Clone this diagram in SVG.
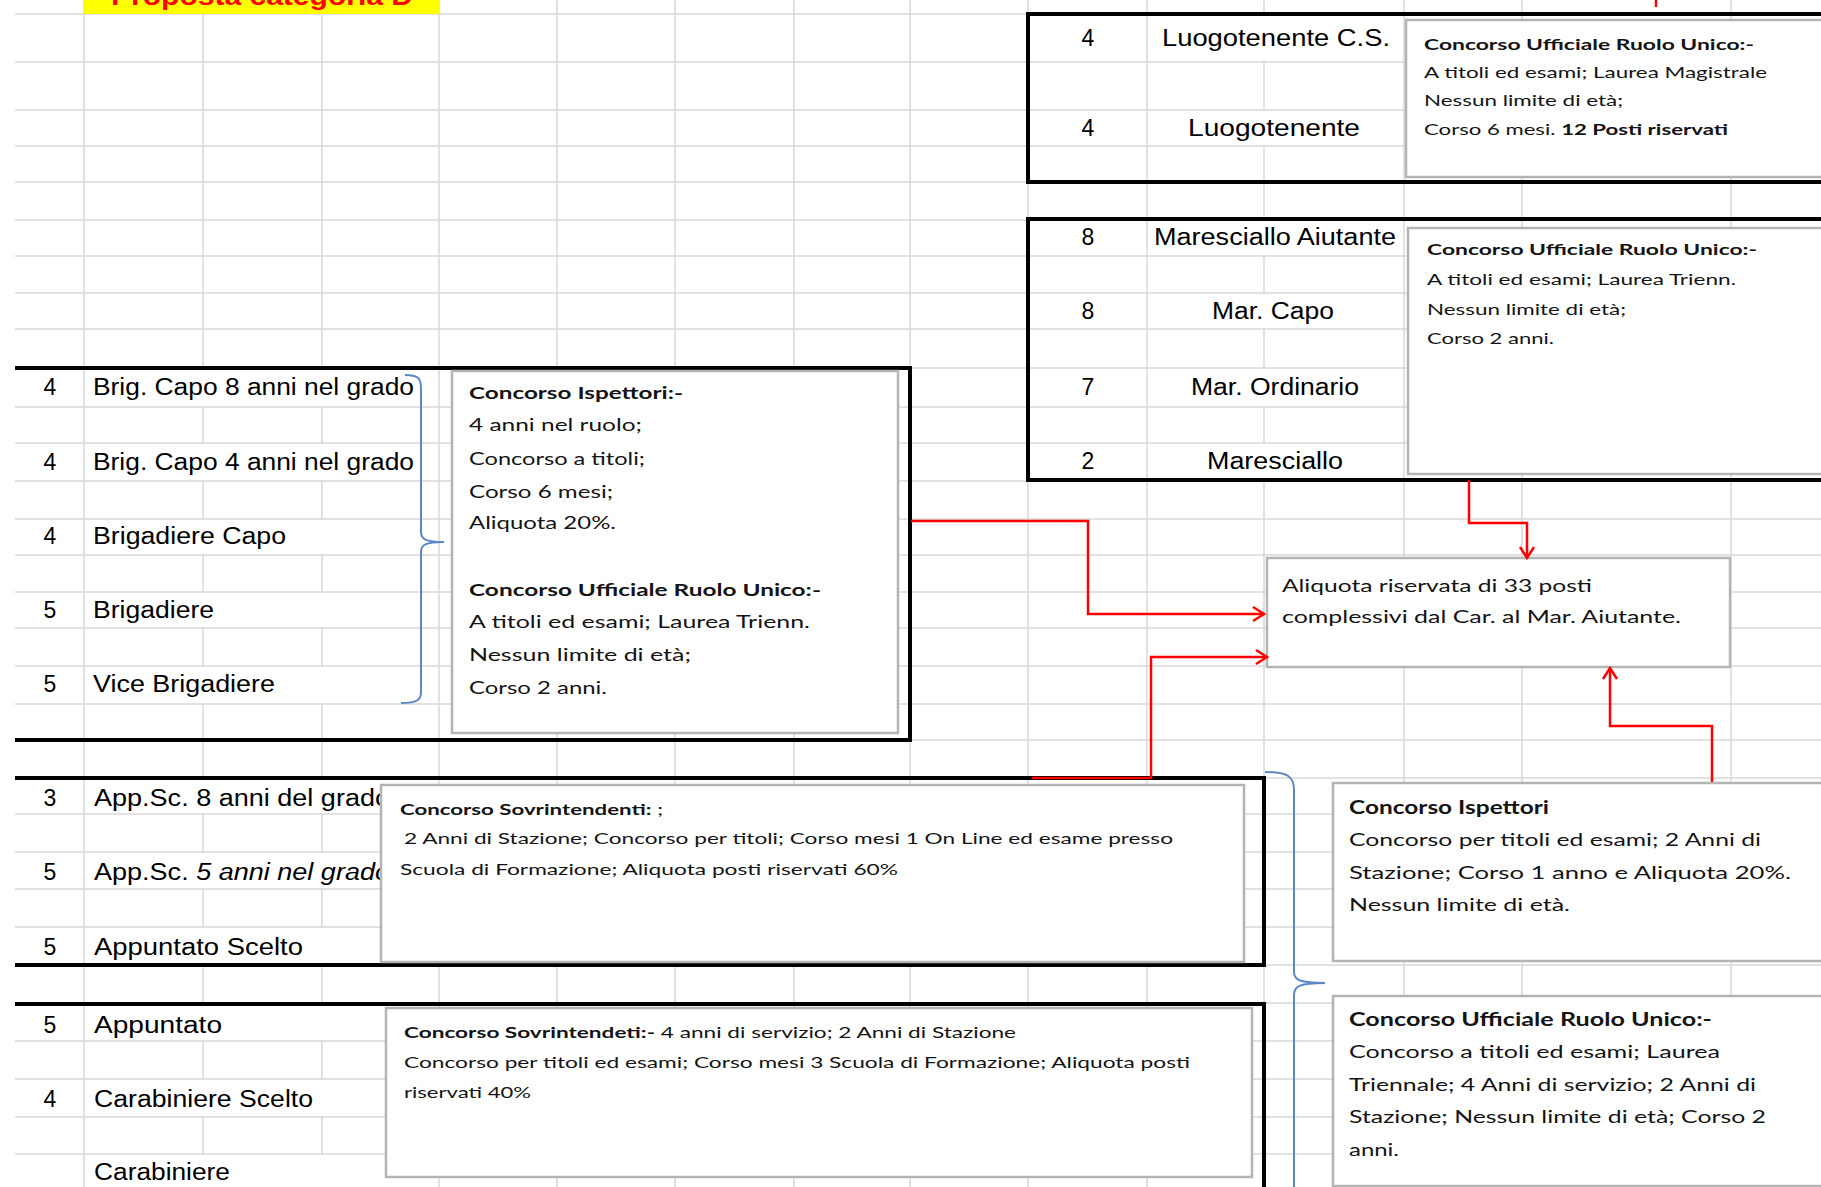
<svg xmlns="http://www.w3.org/2000/svg" width="1821" height="1187" viewBox="0 0 1821 1187">
<style>
.g{stroke:#d9d9d9;stroke-width:1.5}
.wo{fill:#fff}
.box{fill:none;stroke:#000;stroke-width:4}
.co{fill:#fff;stroke:#b4b4b4;stroke-width:2.5}
.lab{font-family:"Liberation Sans",Arial,sans-serif;font-size:23px;fill:#000}
.num{font-family:"Liberation Sans",Arial,sans-serif;font-size:23px;fill:#000;text-anchor:middle}
.t15{font-family:Lato,"Liberation Sans",sans-serif;font-size:15px;fill:#141414}
.t17{font-family:Lato,"Liberation Sans",sans-serif;font-size:17px;fill:#141414}
.t18{font-family:Lato,"Liberation Sans",sans-serif;font-size:18px;fill:#141414}
.b{font-weight:bold}
.brace{fill:none;stroke:#5b87c5;stroke-width:2}
.red{fill:none;stroke:#ff0000;stroke-width:2.5}
</style>
<defs>
<marker id="ah" markerUnits="userSpaceOnUse" markerWidth="18" markerHeight="18" refX="14" refY="9" orient="auto">
<path d="M3,2 L14,9 L3,16" fill="none" stroke="#ff0000" stroke-width="2.5"/>
</marker>
</defs>
<rect width="1821" height="1187" fill="#fff"/>
<g id="grid">
<g class="g">
<line x1="84" y1="0" x2="84" y2="1187"/><line x1="203" y1="0" x2="203" y2="1187"/><line x1="322" y1="0" x2="322" y2="1187"/><line x1="439" y1="0" x2="439" y2="1187"/><line x1="557" y1="0" x2="557" y2="1187"/><line x1="675" y1="0" x2="675" y2="1187"/><line x1="794" y1="0" x2="794" y2="1187"/><line x1="910" y1="0" x2="910" y2="1187"/><line x1="1028" y1="0" x2="1028" y2="1187"/><line x1="1147" y1="0" x2="1147" y2="1187"/><line x1="1264" y1="0" x2="1264" y2="1187"/><line x1="1404" y1="0" x2="1404" y2="1187"/><line x1="1522" y1="0" x2="1522" y2="1187"/><line x1="1731" y1="0" x2="1731" y2="1187"/>
<line x1="15" y1="14" x2="1821" y2="14"/><line x1="15" y1="62" x2="1821" y2="62"/><line x1="15" y1="110" x2="1821" y2="110"/><line x1="15" y1="146" x2="1821" y2="146"/><line x1="15" y1="182" x2="1821" y2="182"/><line x1="15" y1="220" x2="1821" y2="220"/><line x1="15" y1="256" x2="1821" y2="256"/><line x1="15" y1="293" x2="1821" y2="293"/><line x1="15" y1="329" x2="1821" y2="329"/><line x1="15" y1="368" x2="1821" y2="368"/><line x1="15" y1="407" x2="1821" y2="407"/><line x1="15" y1="443" x2="1821" y2="443"/><line x1="15" y1="481" x2="1821" y2="481"/><line x1="15" y1="519" x2="1821" y2="519"/><line x1="15" y1="555" x2="1821" y2="555"/><line x1="15" y1="592" x2="1821" y2="592"/><line x1="15" y1="628" x2="1821" y2="628"/><line x1="15" y1="666" x2="1821" y2="666"/><line x1="15" y1="704" x2="1821" y2="704"/><line x1="15" y1="740" x2="1821" y2="740"/><line x1="15" y1="778" x2="1821" y2="778"/><line x1="15" y1="814" x2="1821" y2="814"/><line x1="15" y1="852" x2="1821" y2="852"/><line x1="15" y1="889" x2="1821" y2="889"/><line x1="15" y1="927" x2="1821" y2="927"/><line x1="15" y1="965" x2="1821" y2="965"/><line x1="15" y1="1003" x2="1821" y2="1003"/><line x1="15" y1="1041" x2="1821" y2="1041"/><line x1="15" y1="1079" x2="1821" y2="1079"/><line x1="15" y1="1117" x2="1821" y2="1117"/><line x1="15" y1="1154" x2="1821" y2="1154"/>
</g>
<g class="wo">
<rect x="86" y="369" width="351" height="37"/><rect x="86" y="444" width="351" height="36"/><rect x="86" y="520" width="351" height="34"/><rect x="86" y="593" width="351" height="34"/><rect x="86" y="667" width="351" height="36"/>
<rect x="86" y="779" width="351" height="34"/><rect x="86" y="853" width="351" height="35"/><rect x="86" y="928" width="351" height="36"/>
<rect x="86" y="1004" width="351" height="36"/><rect x="86" y="1080" width="351" height="36"/><rect x="86" y="1155" width="351" height="32"/>
<rect x="1149" y="15" width="253" height="46"/><rect x="1149" y="111" width="253" height="34"/><rect x="1149" y="221" width="253" height="34"/><rect x="1149" y="294" width="253" height="34"/><rect x="1149" y="369" width="253" height="37"/><rect x="1149" y="444" width="253" height="36"/>
</g>
</g>
<g id="title">
<rect x="84" y="0" width="355" height="14" fill="#ffff00"/>
<text x="262" y="5" font-family="Liberation Sans,Arial,sans-serif" font-size="26" font-weight="bold" fill="#ff0000" text-anchor="middle" textLength="302" lengthAdjust="spacingAndGlyphs">Proposta categoria D</text>
</g>
<g id="box-luogotenente">
<path class="box" d="M1830,14 L1028,14 L1028,182 L1830,182"/>
<text class="num" x="1088" y="46">4</text>
<text class="lab" x="1276" y="46" text-anchor="middle" textLength="228" lengthAdjust="spacingAndGlyphs">Luogotenente C.S.</text>
<text class="num" x="1088" y="136">4</text>
<text class="lab" x="1274" y="136" text-anchor="middle" textLength="172" lengthAdjust="spacingAndGlyphs">Luogotenente</text>
</g>
<g id="box-maresciallo">
<path class="box" d="M1830,219 L1028,219 L1028,480 L1830,480"/>
<text class="num" x="1088" y="245">8</text>
<text class="lab" x="1275" y="245" text-anchor="middle" textLength="242" lengthAdjust="spacingAndGlyphs">Maresciallo Aiutante</text>
<text class="num" x="1088" y="319">8</text>
<text class="lab" x="1273" y="319" text-anchor="middle" textLength="122" lengthAdjust="spacingAndGlyphs">Mar. Capo</text>
<text class="num" x="1088" y="395">7</text>
<text class="lab" x="1275" y="395" text-anchor="middle" textLength="168" lengthAdjust="spacingAndGlyphs">Mar. Ordinario</text>
<text class="num" x="1088" y="469">2</text>
<text class="lab" x="1275" y="469" text-anchor="middle" textLength="136" lengthAdjust="spacingAndGlyphs">Maresciallo</text>
</g>
<g id="box-brigadieri">
<path class="box" d="M15,368 L910,368 L910,740 L15,740"/>
<text class="num" x="50" y="395">4</text>
<text class="lab" x="93" y="395" textLength="321" lengthAdjust="spacingAndGlyphs">Brig. Capo 8 anni nel grado</text>
<text class="num" x="50" y="470">4</text>
<text class="lab" x="93" y="470" textLength="321" lengthAdjust="spacingAndGlyphs">Brig. Capo 4 anni nel grado</text>
<text class="num" x="50" y="544">4</text>
<text class="lab" x="93" y="544" textLength="193" lengthAdjust="spacingAndGlyphs">Brigadiere Capo</text>
<text class="num" x="50" y="618">5</text>
<text class="lab" x="93" y="618" textLength="121" lengthAdjust="spacingAndGlyphs">Brigadiere</text>
<text class="num" x="50" y="692">5</text>
<text class="lab" x="93" y="692" textLength="182" lengthAdjust="spacingAndGlyphs">Vice Brigadiere</text>
</g>
<g id="box-appuntati-scelti">
<path class="box" d="M15,778 L1264,778 L1264,965 L15,965"/>
<text class="num" x="50" y="806">3</text>
<text class="lab" x="94" y="806" textLength="296" lengthAdjust="spacingAndGlyphs">App.Sc. 8 anni del grado</text>
<text class="num" x="50" y="880">5</text>
<text class="lab" x="94" y="880" textLength="296" lengthAdjust="spacingAndGlyphs">App.Sc. <tspan font-style="italic">5 anni nel grado</tspan></text>
<text class="num" x="50" y="955">5</text>
<text class="lab" x="94" y="955" textLength="209" lengthAdjust="spacingAndGlyphs">Appuntato Scelto</text>
</g>
<g id="box-carabinieri">
<path class="box" d="M15,1004 L1264,1004 L1264,1190"/>
<text class="num" x="50" y="1033">5</text>
<text class="lab" x="94" y="1033" textLength="128" lengthAdjust="spacingAndGlyphs">Appuntato</text>
<text class="num" x="50" y="1107">4</text>
<text class="lab" x="94" y="1107" textLength="219" lengthAdjust="spacingAndGlyphs">Carabiniere Scelto</text>
<text class="lab" x="94" y="1180" textLength="136" lengthAdjust="spacingAndGlyphs">Carabiniere</text>
</g>
<g id="callout-luogotenente">
<rect class="co" x="1406" y="20" width="430" height="157"/>
<text class="t15 b" x="1424" y="50" textLength="330" lengthAdjust="spacingAndGlyphs">Concorso Ufficiale Ruolo Unico:-</text>
<text class="t15" x="1424" y="78" textLength="343" lengthAdjust="spacingAndGlyphs">A titoli ed esami; Laurea Magistrale</text>
<text class="t15" x="1424" y="106" textLength="199" lengthAdjust="spacingAndGlyphs">Nessun limite di età;</text>
<text class="t15" x="1424" y="135" textLength="304" lengthAdjust="spacingAndGlyphs">Corso 6 mesi. <tspan class="b">12 Posti riservati</tspan></text>
</g>
<g id="callout-maresciallo">
<rect class="co" x="1408" y="228" width="430" height="246"/>
<text class="t15 b" x="1427" y="255" textLength="330" lengthAdjust="spacingAndGlyphs">Concorso Ufficiale Ruolo Unico:-</text>
<text class="t15" x="1427" y="285" textLength="309" lengthAdjust="spacingAndGlyphs">A titoli ed esami; Laurea Trienn.</text>
<text class="t15" x="1427" y="315" textLength="199" lengthAdjust="spacingAndGlyphs">Nessun limite di età;</text>
<text class="t15" x="1427" y="344" textLength="127" lengthAdjust="spacingAndGlyphs">Corso 2 anni.</text>
</g>
<g id="callout-ispettori-left">
<rect class="co" x="452" y="371" width="446" height="362"/>
<text class="t17 b" x="469" y="399" textLength="214" lengthAdjust="spacingAndGlyphs">Concorso Ispettori:-</text>
<text class="t17" x="469" y="431" textLength="173" lengthAdjust="spacingAndGlyphs">4 anni nel ruolo;</text>
<text class="t17" x="469" y="465" textLength="176" lengthAdjust="spacingAndGlyphs">Concorso a titoli;</text>
<text class="t17" x="469" y="498" textLength="144" lengthAdjust="spacingAndGlyphs">Corso 6 mesi;</text>
<text class="t17" x="469" y="529" textLength="147" lengthAdjust="spacingAndGlyphs">Aliquota 20%.</text>
<text class="t17 b" x="469" y="596" textLength="352" lengthAdjust="spacingAndGlyphs">Concorso Ufficiale Ruolo Unico:-</text>
<text class="t17" x="469" y="628" textLength="341" lengthAdjust="spacingAndGlyphs">A titoli ed esami; Laurea Trienn.</text>
<text class="t17" x="469" y="661" textLength="222" lengthAdjust="spacingAndGlyphs">Nessun limite di età;</text>
<text class="t17" x="469" y="694" textLength="138" lengthAdjust="spacingAndGlyphs">Corso 2 anni.</text>
</g>
<g id="callout-sovrintendenti-60">
<rect class="co" x="381" y="785" width="863" height="177"/>
<text class="t15" x="400" y="815" textLength="263" lengthAdjust="spacingAndGlyphs"><tspan class="b">Concorso Sovrintendenti:</tspan> ;</text>
<text class="t15" x="404" y="844" textLength="769" lengthAdjust="spacingAndGlyphs">2 Anni di Stazione; Concorso per titoli; Corso mesi 1 On Line ed esame presso</text>
<text class="t15" x="400" y="875" textLength="498" lengthAdjust="spacingAndGlyphs">Scuola di Formazione; Aliquota posti riservati 60%</text>
</g>
<g id="callout-sovrintendenti-40">
<rect class="co" x="386" y="1008" width="866" height="169"/>
<text class="t15" x="404" y="1038" textLength="612" lengthAdjust="spacingAndGlyphs"><tspan class="b">Concorso Sovrintendeti:-</tspan> 4 anni di servizio; 2 Anni di Stazione</text>
<text class="t15" x="404" y="1068" textLength="786" lengthAdjust="spacingAndGlyphs">Concorso per titoli ed esami; Corso mesi 3 Scuola di Formazione; Aliquota posti</text>
<text class="t15" x="404" y="1098" textLength="127" lengthAdjust="spacingAndGlyphs">riservati 40%</text>
</g>
<g id="callout-aliquota">
<rect class="co" x="1267" y="558" width="463" height="109"/>
<text class="t18" x="1282" y="592" textLength="310" lengthAdjust="spacingAndGlyphs">Aliquota riservata di 33 posti</text>
<text class="t18" x="1282" y="623" textLength="399" lengthAdjust="spacingAndGlyphs">complessivi dal Car. al Mar. Aiutante.</text>
</g>
<g id="callout-ispettori-right">
<rect class="co" x="1333" y="783" width="500" height="178"/>
<text class="t18 b" x="1349" y="814" textLength="200" lengthAdjust="spacingAndGlyphs">Concorso Ispettori</text>
<text class="t18" x="1349" y="846" textLength="412" lengthAdjust="spacingAndGlyphs">Concorso per titoli ed esami; 2 Anni di</text>
<text class="t18" x="1349" y="879" textLength="442" lengthAdjust="spacingAndGlyphs">Stazione; Corso 1 anno e Aliquota 20%.</text>
<text class="t18" x="1349" y="911" textLength="221" lengthAdjust="spacingAndGlyphs">Nessun limite di età.</text>
</g>
<g id="callout-ufficiale-right">
<rect class="co" x="1333" y="996" width="500" height="190"/>
<text class="t18 b" x="1349" y="1026" textLength="363" lengthAdjust="spacingAndGlyphs">Concorso Ufficiale Ruolo Unico:-</text>
<text class="t18" x="1349" y="1058" textLength="371" lengthAdjust="spacingAndGlyphs">Concorso a titoli ed esami; Laurea</text>
<text class="t18" x="1349" y="1091" textLength="407" lengthAdjust="spacingAndGlyphs">Triennale; 4 Anni di servizio; 2 Anni di</text>
<text class="t18" x="1349" y="1123" textLength="417" lengthAdjust="spacingAndGlyphs">Stazione; Nessun limite di età; Corso 2</text>
<text class="t18" x="1349" y="1156" textLength="50" lengthAdjust="spacingAndGlyphs">anni.</text>
</g>
<g id="braces">
<path class="brace" d="M405,375 C418,375 421,378 421,388 L421,532 C421,539 425,542 444,542 M444,542 C425,542 421,545 421,552 L421,692 C421,700 417,703 401,703"/>
<path class="brace" d="M1265,772 C1287,772 1294,776 1294,790 L1294,972 C1294,980 1300,983 1325,983 M1325,983 C1300,983 1294,986 1294,995 L1294,1190"/>
</g>
<g id="connectors">
<path class="red" d="M911,521 L1088,521 L1088,614 L1264,614" marker-end="url(#ah)"/>
<path class="red" d="M1032,778 L1151,778 L1151,657 L1267,657" marker-end="url(#ah)"/>
<path class="red" d="M1469,480 L1469,523 L1527,523 L1527,558" marker-end="url(#ah)"/>
<path class="red" d="M1712,782 L1712,726 L1610,726 L1610,668" marker-end="url(#ah)"/>
<path class="red" d="M1656,0 L1656,7"/>
</g>
</svg>
